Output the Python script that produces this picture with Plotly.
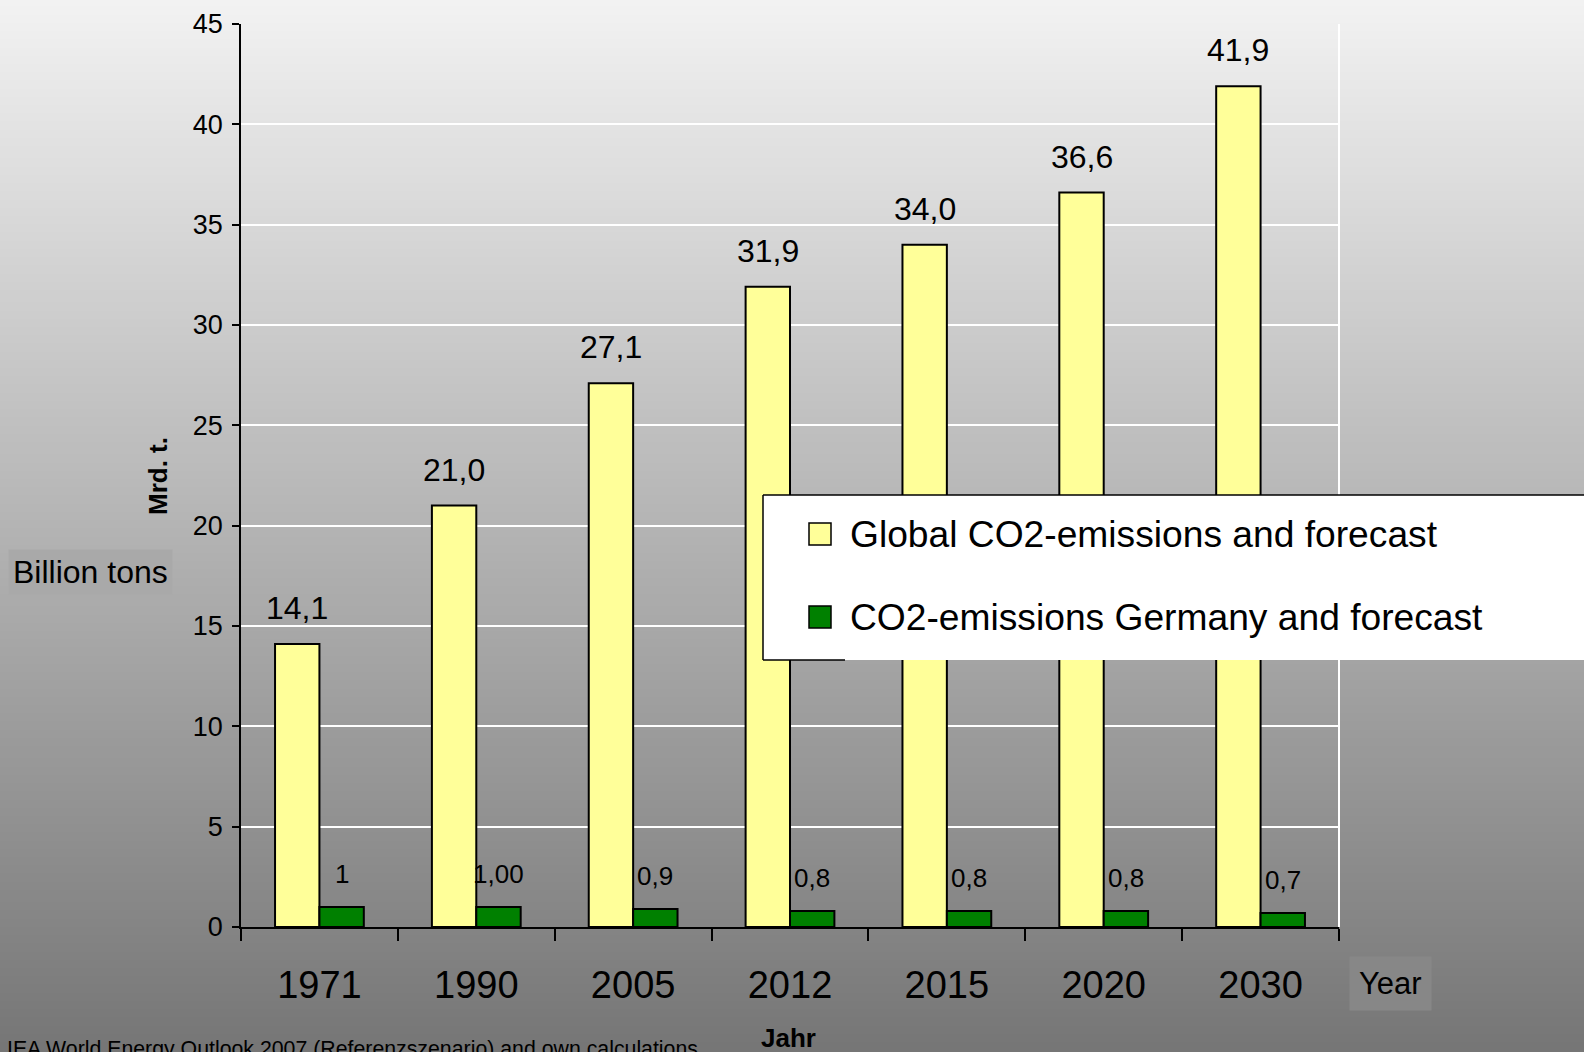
import base64
import struct
import zlib

import plotly.graph_objects as go

# ---- data -------------------------------------------------------------
years = ["1971", "1990", "2005", "2012", "2015", "2020", "2030"]
global_co2 = [14.1, 21.0, 27.1, 31.9, 34.0, 36.6, 41.9]
germany_co2 = [1.0, 1.0, 0.9, 0.8, 0.8, 0.8, 0.7]
germany_labels = ["1", "1,00", "0,9", "0,8", "0,8", "0,8", "0,7"]

name_global = "Global CO2-emissions and forecast"
name_germany = "CO2-emissions Germany and forecast"

# ---- styling ----------------------------------------------------------
W, H = 1584, 1052
M_L, M_R, M_T, M_B = 241, 245, 24, 125
PW, PH = W - M_L - M_R, H - M_T - M_B
FONT = "Liberation Sans, Arial, sans-serif"
YELLOW = "#ffff99"
GREEN = "#008000"


def px(x):
    """pixel column -> paper x"""
    return (x - M_L) / PW


def py(y):
    """pixel row -> paper y"""
    return (H - M_B - y) / PH


def gray_png(values, width=2):
    """tiny grayscale PNG used as a vertical gradient backdrop"""
    raw = b"".join(b"\x00" + bytes([v]) * width for v in values)

    def chunk(tag, data):
        return (struct.pack(">I", len(data)) + tag + data
                + struct.pack(">I", zlib.crc32(tag + data) & 0xFFFFFFFF))

    ihdr = struct.pack(">IIBBBBB", width, len(values), 8, 0, 0, 0, 0)
    png = (b"\x89PNG\r\n\x1a\n" + chunk(b"IHDR", ihdr)
           + chunk(b"IDAT", zlib.compress(raw)) + chunk(b"IEND", b""))
    return "data:image/png;base64," + base64.b64encode(png).decode()


n = 256
top, bottom = 242, 118
gradient = [round(top + (bottom - top) * i / (n - 1)) for i in range(n)]

fig = go.Figure()
fig.add_trace(go.Bar(x=years, y=global_co2, name=name_global,
                     marker=dict(color=YELLOW, line=dict(color="black", width=2))))
fig.add_trace(go.Bar(x=years, y=germany_co2, name=name_germany,
                     marker=dict(color=GREEN, line=dict(color="black", width=2))))

annotations = []
half = PW / len(years) * (1 - 0.434) / 4  # offset from category centre to each bar centre

# value labels; x is the category index on the category axis
for i, v in enumerate(global_co2):
    annotations.append(dict(x=i, y=v, xref="x", yref="y", text=f"{v:.1f}".replace(".", ","),
                            showarrow=False, xshift=-half, yshift=36,
                            xanchor="center", yanchor="middle",
                            font=dict(size=32, color="black", family=FONT)))
for i, (v, lab) in enumerate(zip(germany_co2, germany_labels)):
    annotations.append(dict(x=i, y=v, xref="x", yref="y", text=lab,
                            showarrow=False, xshift=half, yshift=33,
                            xanchor="center", yanchor="middle",
                            font=dict(size=26, color="black", family=FONT)))

# axis captions and notes
annotations += [
    dict(x=px(158), y=py(476), xref="paper", yref="paper", text="<b>Mrd. t.</b>", textangle=-90,
         xanchor="center", yanchor="middle",
         showarrow=False, font=dict(size=26, color="black", family=FONT)),
    dict(x=px(90.5), y=py(572), xref="paper", yref="paper", text="Billion tons",
         xanchor="center", yanchor="middle",
         showarrow=False, bgcolor="#a9a9a9", borderpad=4,
         font=dict(size=32, color="black", family=FONT)),
    dict(x=px(1390), y=py(983), xref="paper", yref="paper", text="Year",
         xanchor="center", yanchor="middle",
         showarrow=False, bgcolor="#878787", borderpad=9,
         font=dict(size=31, color="black", family=FONT)),
    dict(x=px(788), y=py(1038), xref="paper", yref="paper", text="<b>Jahr</b>",
         xanchor="center", yanchor="middle",
         showarrow=False, font=dict(size=26, color="black", family=FONT)),
    dict(x=px(5), y=py(1035), xref="paper", yref="paper", xanchor="left", yanchor="top",
         text="IEA World Energy Outlook 2007 (Referenzszenario) and own calculations",
         showarrow=False, font=dict(size=21.3, color="black", family=FONT)),
]

# legend panel
leg_l, leg_t, leg_b = 763, 495, 660
shapes = [
    dict(type="rect", xref="paper", yref="paper", x0=px(leg_l), x1=px(W + 20), y0=py(leg_b), y1=py(leg_t),
         fillcolor="white", line=dict(width=0), layer="above"),
    dict(type="line", xref="paper", yref="paper", x0=px(leg_l), x1=px(W + 20), y0=py(leg_t), y1=py(leg_t),
         line=dict(color="black", width=1.5), layer="above"),
    dict(type="line", xref="paper", yref="paper", x0=px(leg_l), x1=px(leg_l), y0=py(leg_b), y1=py(leg_t),
         line=dict(color="black", width=1.5), layer="above"),
    dict(type="line", xref="paper", yref="paper", x0=px(leg_l), x1=px(845), y0=py(leg_b), y1=py(leg_b),
         line=dict(color="black", width=1.5), layer="above"),
    # white frame on the right of the plotting area
    dict(type="line", xref="paper", yref="paper", x0=1, x1=1, y0=0, y1=1,
         line=dict(color="white", width=2), layer="below"),
]
for color, name, cy in [(YELLOW, name_global, 534), (GREEN, name_germany, 617)]:
    shapes.append(dict(type="rect", xref="paper", yref="paper", x0=px(809), x1=px(831),
                       y0=py(cy + 11), y1=py(cy - 11), fillcolor=color,
                       line=dict(color="black", width=1.5), layer="above"))
    annotations.append(dict(x=px(848), y=py(cy), xref="paper", yref="paper", xanchor="left",
                            yanchor="middle", text=name, showarrow=False,
                            font=dict(size=37.2, color="black", family=FONT)))

fig.update_layout(
    width=W, height=H,
    margin=dict(l=M_L, r=M_R, t=M_T, b=M_B, autoexpand=False),
    paper_bgcolor="#a0a0a0",
    plot_bgcolor="rgba(0,0,0,0)",
    barmode="group", bargap=0.434, bargroupgap=0,
    showlegend=False,
    font=dict(family=FONT, color="black"),
    images=[dict(source=gray_png(gradient), xref="paper", yref="paper",
                 x=px(0), y=py(0), sizex=W / PW, sizey=H / PH,
                 xanchor="left", yanchor="top", sizing="stretch", layer="below")],
    annotations=annotations,
    shapes=shapes,
    xaxis=dict(type="category", tickson="boundaries", ticks="outside", ticklen=12,
               tickwidth=1.5, tickcolor="black", showline=True, linecolor="black",
               linewidth=1.5, showgrid=False, tickfont=dict(size=38, color="black"),
               ticklabelstandoff=24, tickangle=0),
    yaxis=dict(range=[0, 45], dtick=5, ticks="outside", ticklen=7, tickwidth=1.5,
               tickcolor="black", showline=True, linecolor="black", linewidth=1.5,
               showgrid=True, gridcolor="white", gridwidth=1.5, zeroline=False,
               tickfont=dict(size=27, color="black"), ticklabelstandoff=4),
)

fig.write_html("out.html")
